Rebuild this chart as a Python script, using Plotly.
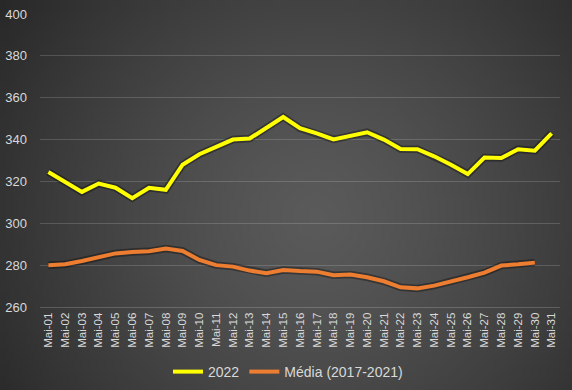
import base64, struct, zlib
import plotly.graph_objects as go

categories = [f"Mai-{d:02d}" for d in range(1, 32)]
serie_2022 = [324.5, 320, 315, 319, 317, 312, 317, 316, 328, 333, 336.5, 340, 340.5, 345.5, 350.8,
              345.4, 343, 340.1, 341.8, 343.5, 340, 335.5, 335.4, 332, 328, 323.5, 331.4, 331.2, 335.4, 334.7, 343]
serie_media = [280, 280.4, 282, 283.7, 285.6, 286.3, 286.6, 287.9, 286.8, 282.5, 280, 279.3, 277.4, 276.1, 277.7,
               277.2, 276.9, 275.2, 275.5, 274.2, 272.3, 269.4, 268.9, 270.2, 272.1, 274.2, 276.4, 279.8, 280.4, 281.2, None]
y_ticks = [260, 280, 300, 320, 340, 360, 380, 400]

W, H = 572, 390
L, R, T, B = 40, 12, 14, 83


def gradient_png(w, h):
    rows = []
    cx, cy = 0.55 * w, 0.55 * h
    maxd = ((max(cx, w - cx)) ** 2 + (max(cy, h - cy)) ** 2) ** 0.5
    for j in range(h):
        row = bytearray([0])
        for i in range(w):
            d = ((i - cx) ** 2 + (j - cy) ** 2) ** 0.5 / maxd
            v = int(round(90 - 50 * min(1.0, d) ** 1.3))
            row += bytes([v, v, v])
        rows.append(bytes(row))
    raw = b"".join(rows)

    def chunk(tag, data):
        c = struct.pack(">I", len(data)) + tag + data
        return c + struct.pack(">I", zlib.crc32(tag + data) & 0xffffffff)

    png = b"\x89PNG\r\n\x1a\n" + chunk(b"IHDR", struct.pack(">IIBBBBB", w, h, 8, 2, 0, 0, 0))
    png += chunk(b"IDAT", zlib.compress(raw, 9)) + chunk(b"IEND", b"")
    return "data:image/png;base64," + base64.b64encode(png).decode()


fig = go.Figure()
for vals, col in [(serie_2022, "#FFFF00"), (serie_media, "#ED7D31")]:
    fig.add_trace(go.Scatter(x=categories, y=vals, mode="lines", showlegend=False, hoverinfo="skip",
                             line=dict(color="rgba(0,0,0,0.35)", width=7.5)))
fig.add_trace(go.Scatter(x=categories, y=serie_2022, mode="lines", name="2022",
                         line=dict(color="#FFFF00", width=4)))
fig.add_trace(go.Scatter(x=categories, y=serie_media, mode="lines", name="Média (2017-2021)",
                         line=dict(color="#ED7D31", width=4)))

pw, ph = W - L - R, H - T - B
fig.add_layout_image(dict(source=gradient_png(143, 98), xref="paper", yref="paper",
                          x=-L / pw, y=1 + T / ph, sizex=W / pw, sizey=H / ph,
                          sizing="stretch", layer="below", xanchor="left", yanchor="top"))

fig.update_layout(
    width=W, height=H, margin=dict(l=L, r=R, t=T, b=B, autoexpand=False),
    paper_bgcolor="#404040", plot_bgcolor="rgba(0,0,0,0)",
    font=dict(family="Liberation Sans, Arial, sans-serif", color="#D9D9D9"),
    xaxis=dict(type="category", range=[-0.5, 30.5], showgrid=False, zeroline=False, automargin=False,
               tickangle=-90, tickfont=dict(size=11.5, color="#D9D9D9"), showline=True,
               linecolor="rgba(255,255,255,0.18)", linewidth=1, ticks=""),
    yaxis=dict(range=[260, 400], tickvals=y_ticks, showgrid=True, gridcolor="rgba(255,255,255,0.16)",
               gridwidth=1, zeroline=False, automargin=False, tickfont=dict(size=13, color="#D9D9D9"),
               ticklabelstandoff=12),
    legend=dict(orientation="h", x=(288 - L) / pw, xanchor="center", yref="container", y=1 - 372 / 390,
                yanchor="middle", font=dict(size=14, color="#D9D9D9"), bgcolor="rgba(0,0,0,0)",
                itemwidth=30),
    hovermode=False,
)
fig.write_html("out.html", config={"displayModeBar": False, "staticPlot": True})
with open("out.html", encoding="utf-8") as f:
    html = f.read()
html = html.replace("<body>", '<body style="margin:0;padding:0;overflow:hidden;">', 1)
with open("out.html", "w", encoding="utf-8") as f:
    f.write(html)
